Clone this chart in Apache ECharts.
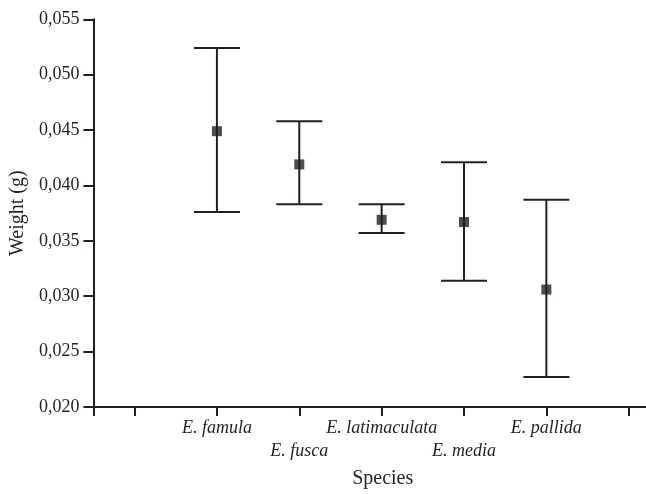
<!DOCTYPE html>
<html>
<head>
<meta charset="utf-8">
<script src="https://cdn.jsdelivr.net/npm/echarts@6/dist/echarts.min.js"></script>
<style>
html,body{margin:0;padding:0;background:#fff;}
#chart{width:646px;height:494px;}
</style>
</head>
<body>
<div id="chart"></div>
<script>
const species = ['E. famula', 'E. fusca', 'E. latimaculata', 'E. media', 'E. pallida'];
const means = [0.0449, 0.0419, 0.0369, 0.0367, 0.0306];
const lower = [0.0376, 0.0383, 0.0357, 0.0314, 0.0227];
const upper = [0.0524, 0.0458, 0.0383, 0.0421, 0.0387];
const yTicks = [0.020, 0.025, 0.030, 0.035, 0.040, 0.045, 0.050, 0.055];

const INK = '#231f20';
const FONT = 'Liberation Serif';
const pos = species.map((s, i) => 1.5 + i);

const chart = echarts.init(document.getElementById('chart'));
chart.setOption({
  animation: false,
  backgroundColor: '#fff',
  grid: { left: 91, right: 0, top: 19.3, bottom: 80.3 },
  xAxis: {
    type: 'value', min: 0, max: 6.71,
    name: 'Species', nameLocation: 'middle', nameGap: 62,
    nameTextStyle: { fontFamily: FONT, fontSize: 20, color: INK, padding: [0, 0, 0, 26] },
    axisLine: { onZero: false, lineStyle: { color: INK, width: 2 } },
    axisTick: { show: true, inside: false, length: 9, lineStyle: { color: INK, width: 2 },
      customValues: [0, 0.5, 1.5, 2.5, 3.5, 4.5, 5.5, 6.5] },
    axisLabel: {
      customValues: pos, margin: 10,
      fontFamily: FONT, fontSize: 18, fontStyle: 'italic', color: INK, lineHeight: 23,
      formatter: v => { const i = Math.round(v - 1.5); return (i % 2 === 1 ? '\n' : '') + species[i]; }
    },
    splitLine: { show: false }
  },
  yAxis: {
    type: 'value', min: 0.020, max: 0.055, interval: 0.005,
    name: 'Weight (g)', nameLocation: 'middle', nameGap: 58,
    nameTextStyle: { fontFamily: FONT, fontSize: 20, color: INK },
    axisLine: { show: true, onZero: false, lineStyle: { color: INK, width: 2 } },
    axisTick: { show: true, length: 10, lineStyle: { color: INK, width: 2 }, customValues: yTicks },
    axisLabel: { customValues: yTicks, margin: 14, fontFamily: FONT, fontSize: 18, color: INK,
      formatter: v => v.toFixed(3).replace('.', ',') },
    splitLine: { show: false }
  },
  series: [
    {
      type: 'custom',
      data: pos.map((x, i) => [x, lower[i], upper[i]]),
      renderItem: (params, api) => {
        const x = api.value(0);
        const lo = api.coord([x, api.value(1)]);
        const hi = api.coord([x, api.value(2)]);
        const hw = 23;
        const style = { stroke: INK, lineWidth: 2 };
        return {
          type: 'group',
          children: [
            { type: 'line', shape: { x1: hi[0], y1: hi[1], x2: lo[0], y2: lo[1] }, style },
            { type: 'line', shape: { x1: hi[0] - hw, y1: hi[1], x2: hi[0] + hw, y2: hi[1] }, style },
            { type: 'line', shape: { x1: lo[0] - hw, y1: lo[1], x2: lo[0] + hw, y2: lo[1] }, style }
          ]
        };
      },
      z: 2
    },
    {
      type: 'scatter',
      data: pos.map((x, i) => [x, means[i]]),
      symbol: 'rect', symbolSize: 10,
      itemStyle: { color: INK },
      z: 3
    }
  ]
});
</script>
</body>
</html>
